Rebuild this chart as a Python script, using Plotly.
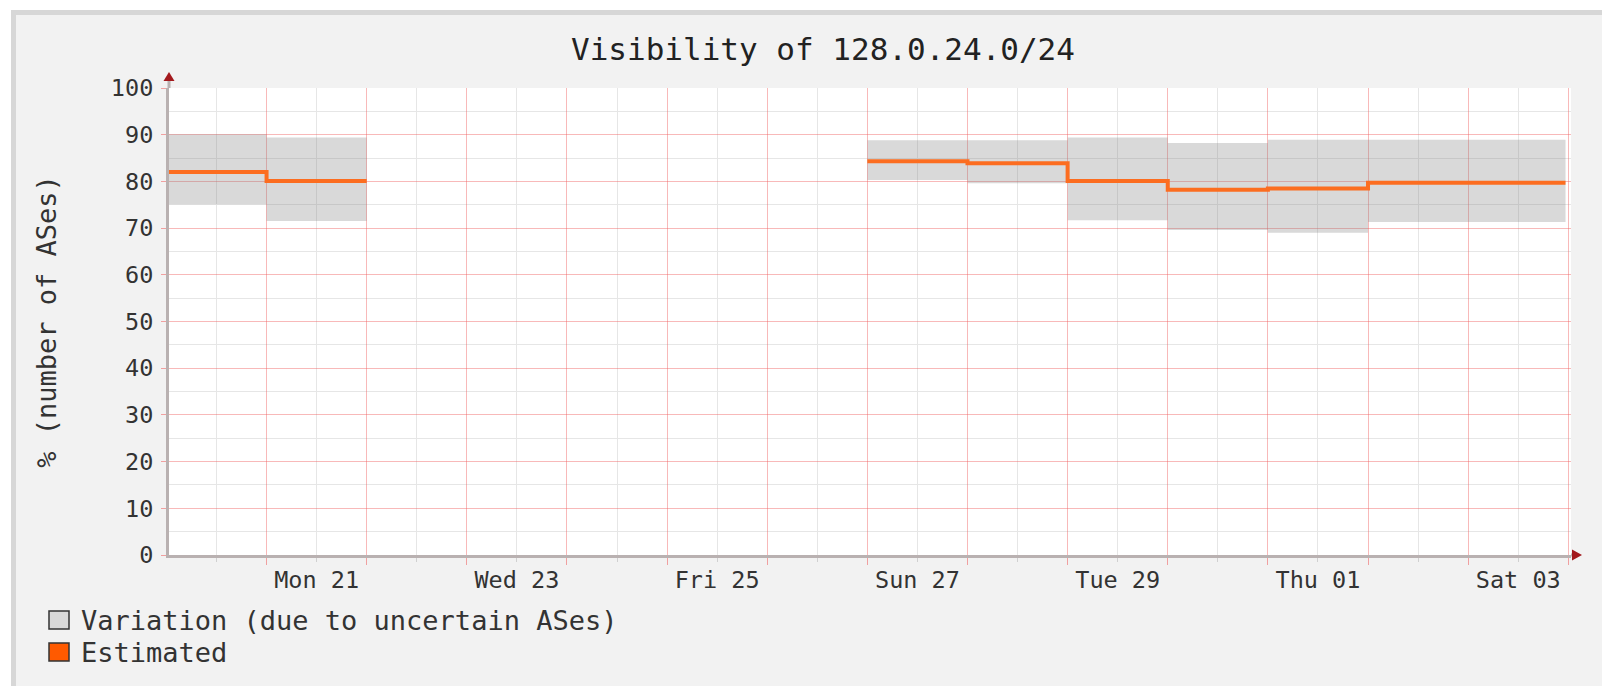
import plotly.graph_objects as go

# ---------------- data ----------------
days = ["2014-04-20", "2014-04-21", "2014-04-22", "2014-04-23", "2014-04-24",
        "2014-04-25", "2014-04-26", "2014-04-27", "2014-04-28", "2014-04-29",
        "2014-04-30", "2014-05-01", "2014-05-02", "2014-05-03"]
estimated = [82.0, 80.1, None, None, None, None, None, 84.3, 83.9, 80.1, 78.2, 78.5, 79.7, 79.7]
upper = [90.1, 89.4, None, None, None, None, None, 88.8, 88.8, 89.4, 88.2, 88.9, 88.9, 88.9]
lower = [75.1, 71.5, None, None, None, None, None, 80.3, 79.6, 71.7, 69.6, 69.0, 71.3, 71.3]
data_end = "2014-05-03 23:20"
x_start = "2014-04-20 00:37"
x_end = "2014-05-04 00:39"

label_days = ["2014-04-21 12:00", "2014-04-23 12:00", "2014-04-25 12:00", "2014-04-27 12:00",
              "2014-04-29 12:00", "2014-05-01 12:00", "2014-05-03 12:00"]
label_text = ["Mon 21", "Wed 23", "Fri 25", "Sun 27", "Tue 29", "Thu 01", "Sat 03"]

title_text = "Visibility of 128.0.24.0/24"
y_title = "% (number of ASes)"
legend_labels = ["Variation (due to uncertain ASes)", "Estimated"]

# ---------------- style ----------------
OX, OY = 8, 8                      # page body margin offset
W, H = 1610 - OX, 686 - OY
L, R, T, B = 169, 1571, 88, 555    # plot area in window pixels
FONT = "DejaVu Sans Mono"
BAND = "rgba(128,128,128,0.30)"
LINE = "#fc6d20"
MAJOR = "rgba(240,100,100,0.45)"
MINOR = "#e6e6e6"
AXIS = "#b9b1b1"
ARROW = "#a3191d"
TXT = "#333333"


def px(x):
    return (x - L) / (R - L)


def py(y):
    return (B - y) / (B - T)


# contiguous runs of available data
runs = []
i = 0
while i < len(days):
    if estimated[i] is None:
        i += 1
        continue
    j = i
    while j + 1 < len(days) and estimated[j + 1] is not None:
        j += 1
    runs.append((i, j))
    i = j + 1

fig = go.Figure()
for (i0, i1) in runs:
    end = days[i1 + 1] if i1 + 1 < len(days) else data_end
    xs = days[i0:i1 + 1] + [end]
    lo = lower[i0:i1 + 1] + [lower[i1]]
    hi = upper[i0:i1 + 1] + [upper[i1]]
    est = estimated[i0:i1 + 1] + [estimated[i1]]
    fig.add_trace(go.Scatter(x=xs, y=lo, mode="lines", line=dict(width=0, shape="hv"),
                             showlegend=False, hoverinfo="skip"))
    fig.add_trace(go.Scatter(x=xs, y=hi, mode="lines", line=dict(width=0, shape="hv"),
                             fill="tonexty", fillcolor=BAND, showlegend=False,
                             name=legend_labels[0]))
    fig.add_trace(go.Scatter(x=xs, y=est, mode="lines", line=dict(width=4, shape="hv", color=LINE),
                             showlegend=False, name=legend_labels[1]))

# carrier for the day-label axis (draws nothing)
fig.add_trace(go.Scatter(x=label_days, y=[None] * len(label_days), mode="lines",
                         xaxis="x2", yaxis="y", showlegend=False, hoverinfo="skip"))

shapes = [
    # page surroundings / frame
    dict(type="rect", xref="paper", yref="paper", x0=px(-10), x1=px(1700), y0=py(-10), y1=py(10),
         fillcolor="white", line=dict(width=0), layer="above"),
    dict(type="rect", xref="paper", yref="paper", x0=px(-10), x1=px(11), y0=py(-10), y1=py(800),
         fillcolor="white", line=dict(width=0), layer="above"),
    dict(type="rect", xref="paper", yref="paper", x0=px(13.5), x1=px(1700), y0=py(12.5), y1=py(800),
         fillcolor="rgba(0,0,0,0)", line=dict(width=5, color="#d7d7d7"), layer="above"),
    # axis extensions and arrows
    dict(type="line", xref="paper", yref="paper", x0=px(L), x1=px(L), y0=py(T), y1=py(79),
         line=dict(width=3, color=AXIS), layer="above"),
    dict(type="path", xref="paper", yref="paper",
         path=f"M {px(L-5.5)},{py(81)} L {px(L+5.5)},{py(81)} L {px(L)},{py(72)} Z",
         fillcolor=ARROW, line=dict(width=0), layer="above"),
    dict(type="line", xref="paper", yref="paper", x0=px(R), x1=px(R + 3), y0=py(B), y1=py(B),
         line=dict(width=3, color=AXIS), layer="above"),
    dict(type="path", xref="paper", yref="paper",
         path=f"M {px(R+1)},{py(B-5.5)} L {px(R+1)},{py(B+5.5)} L {px(R+11)},{py(B)} Z",
         fillcolor=ARROW, line=dict(width=0), layer="above"),
    # legend boxes
    dict(type="rect", xref="paper", yref="paper", x0=px(49), x1=px(69), y0=py(629), y1=py(611),
         fillcolor="#d9d9d9", line=dict(width=1.5, color="#333333"), layer="above"),
    dict(type="rect", xref="paper", yref="paper", x0=px(49), x1=px(69), y0=py(661), y1=py(643),
         fillcolor="#ff5a00", line=dict(width=1.5, color="#333333"), layer="above"),
]

annotations = [
    dict(text=legend_labels[0], xref="paper", yref="paper", x=px(79), y=py(620),
         xanchor="left", yanchor="middle", showarrow=False,
         font=dict(family=FONT, size=27, color=TXT)),
    dict(text=legend_labels[1], xref="paper", yref="paper", x=px(79), y=py(652),
         xanchor="left", yanchor="middle", showarrow=False,
         font=dict(family=FONT, size=27, color=TXT)),
]

fig.update_layout(
    width=W, height=H,
    margin=dict(l=L - OX, r=1610 - R, t=T - OY, b=686 - B, autoexpand=False),
    paper_bgcolor="#f2f2f2",
    plot_bgcolor="white",
    title=dict(text=title_text, x=(823 - OX) / W, xanchor="center", y=1 - (49 - OY) / H,
               yanchor="middle", xref="container", yref="container",
               font=dict(family=FONT, size=31, color="#222222")),
    showlegend=False,
    shapes=shapes,
    annotations=annotations,
    xaxis=dict(
        type="date", range=[x_start, x_end],
        tickmode="linear", tick0="2014-04-20", dtick=86400000,
        showticklabels=False, ticks="outside", ticklen=7, tickcolor="#f0a0a0", tickwidth=1,
        showgrid=True, gridcolor=MAJOR, gridwidth=1,
        minor=dict(tick0="2014-04-20 12:00", dtick=86400000, showgrid=True, gridcolor=MINOR,
                   ticks="outside", ticklen=4, tickcolor="#d0d0d0"),
        showline=True, linecolor=AXIS, linewidth=3, zeroline=False,
    ),
    xaxis2=dict(
        type="date", range=[x_start, x_end], overlaying="x", anchor="y", side="bottom",
        tickmode="array", tickvals=label_days, ticktext=label_text,
        ticks="", showgrid=False, showline=False, zeroline=False,
        tickfont=dict(family=FONT, size=23.5, color=TXT),
        ticklabelstandoff=8,
    ),
    yaxis=dict(
        range=[0, 100], tickmode="linear", tick0=0, dtick=10,
        ticks="outside", ticklen=5, tickcolor="#f0a0a0",
        showgrid=True, gridcolor=MAJOR, gridwidth=1,
        minor=dict(dtick=5, showgrid=True, gridcolor=MINOR),
        showline=True, linecolor=AXIS, linewidth=3, zeroline=False,
        tickfont=dict(family=FONT, size=23.5, color=TXT),
        ticklabelstandoff=3,
        title=dict(text=y_title, standoff=47, font=dict(family=FONT, size=27, color=TXT)),
    ),
)

fig.write_html("out.html")
